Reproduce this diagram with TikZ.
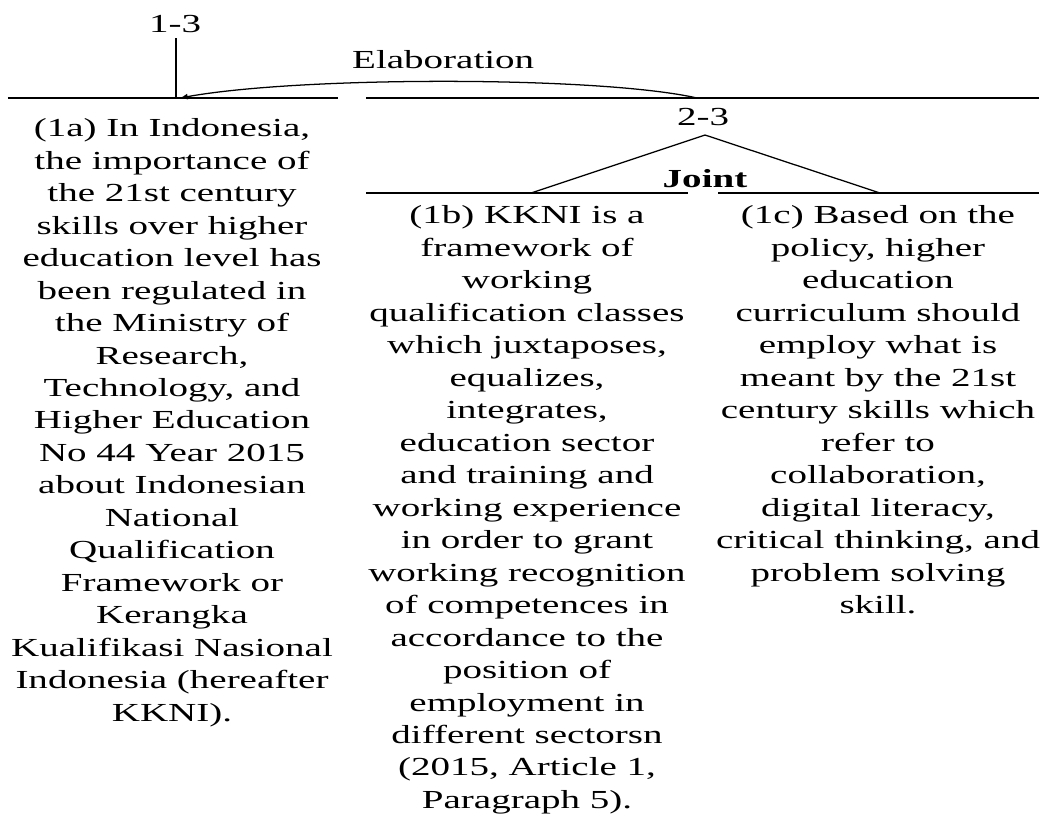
\documentclass[tikz,border=0pt]{standalone}
\usepackage{fontspec}
\setmainfont{Liberation Serif}[FakeStretch=1.5]

\begin{document}
\begin{tikzpicture}[line width=0.9pt,
        txt/.style={align=center, inner sep=0pt, font=\fontsize{18.5}{23.1}\selectfont}] %Arbol RST 1-3
        \useasboundingbox (0,0) rectangle (26.15,-20.625);

        \coordinate (A) at (4.4,-0.95);
        \coordinate (B) at (4.4,-2.45);

        \coordinate (C) at (17.425,-2.45);
        \coordinate (D) at (4.5,-2.45);

        \coordinate (E) at (17.625,-3.375);
        \coordinate (F) at (13.275,-4.825);
        \coordinate (G) at (22.0,-4.825);

        \draw (A) -- (B);
        \draw (0.2,-2.45) -- (8.45,-2.45);
        \draw (9.15,-2.45) -- (25.975,-2.45);
        \draw[-latex] (C) .. controls (15,-1.9) and (7.5,-1.9) .. (D);

        \draw (F) -- (E) -- (G);
        \draw (9.15,-4.825) -- (17.2,-4.825);
        \draw (17.95,-4.825) -- (25.975,-4.825);

        \node[txt, anchor=base] (n13) at (4.38,-0.8) {1-3};
        \node[txt, anchor=base] (elab) at (11.08,-1.7) {Elaboration};
        \node[txt, anchor=base] (n23) at (17.58,-3.125) {2-3};
        \node[txt, anchor=base] (joint) at (17.625,-4.675) {\bfseries Joint};

        \node[txt, anchor=north] (s1a) at (4.3,-2.95) {(1a) In Indonesia,\\ the importance of\\ the 21st century\\
            skills over higher\\ education level has\\ been regulated in\\ the Ministry of\\ Research,\\
            Technology, and\\ Higher Education\\ No 44 Year 2015\\ about Indonesian\\ National\\
            Qualification\\ Framework or\\ Kerangka\\ Kualifikasi Nasional\\ Indonesia (hereafter\\ KKNI).};
        \node[txt, anchor=north] (s1b) at (13.175,-5.13) {(1b) KKNI is a\\ framework of\\ working\\
            qualification classes\\ which juxtaposes,\\ equalizes,\\ integrates,\\ education sector\\
            and training and\\ working experience\\ in order to grant\\ working recognition\\
            of competences in\\ accordance to the\\ position of\\ employment in\\ different sectorsn\\
            (2015, Article 1,\\ Paragraph 5).};
        \node[txt, anchor=north] (s1c) at (21.95,-5.13) {(1c) Based on the\\ policy, higher\\ education\\
            curriculum should\\ employ what is\\ meant by the 21st\\ century skills which\\ refer to\\
            collaboration,\\ digital literacy,\\ critical thinking, and\\ problem solving\\ skill.};
    \end{tikzpicture}
\end{document}
